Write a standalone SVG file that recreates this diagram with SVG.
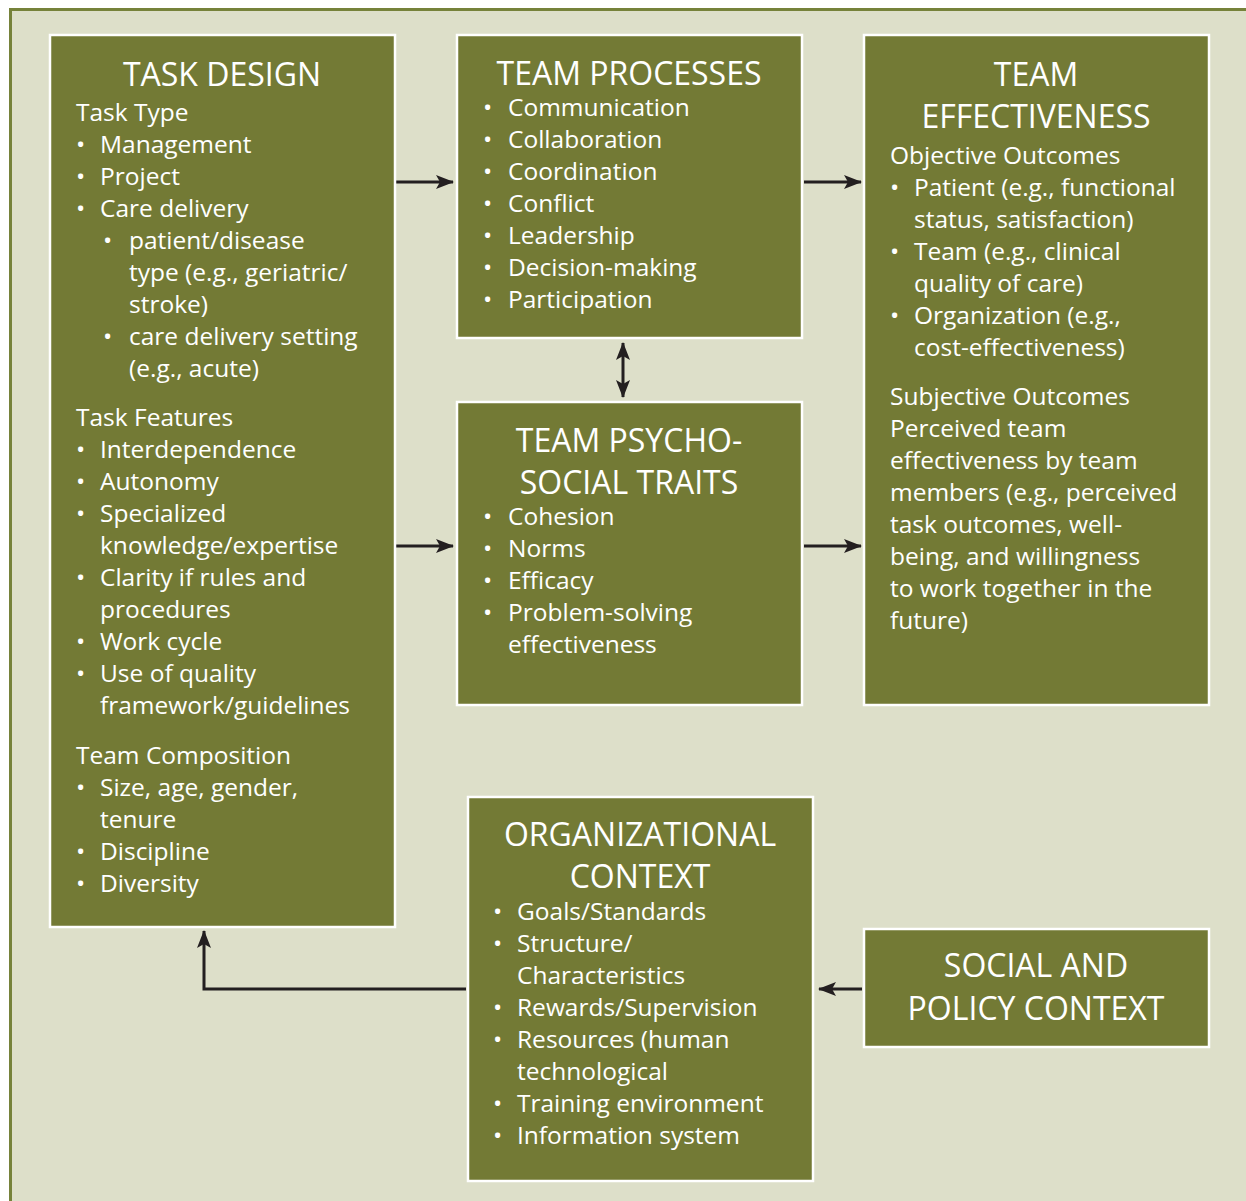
<svg xmlns="http://www.w3.org/2000/svg" width="1246" height="1201" viewBox="0 0 1246 1201">
  <style>
    .box { fill: #737a35; stroke: #ffffff; stroke-width: 2.5; }
    text { font-family: "Open Sans", "Noto Sans", "Liberation Sans", sans-serif; fill: #ffffff; }
    .title { font-size: 32px; text-anchor: middle; }
    .body { font-size: 24.5px; font-weight: 500; }
    .conn { stroke: #231f20; stroke-width: 3; fill: none; }
  </style>
  <defs>
    <marker id="head" viewBox="0 0 18 14" refX="17" refY="7" markerWidth="18" markerHeight="14" markerUnits="userSpaceOnUse" orient="auto-start-reverse">
      <path d="M0,0 L18,7 L0,14 L4,7 Z" fill="#231f20"/>
    </marker>
  </defs>

  <!-- page frame -->
  <rect x="0" y="0" width="1246" height="1201" fill="#ffffff"/>
  <rect x="10.5" y="9.5" width="1250" height="1200" fill="#dddfc9" stroke="#76823a" stroke-width="3"/>

  <!-- connectors -->
  <g id="connectors">
    <line class="conn" x1="396" y1="182" x2="453" y2="182" marker-end="url(#head)"/>
    <line class="conn" x1="804" y1="182" x2="861" y2="182" marker-end="url(#head)"/>
    <line class="conn" x1="396" y1="546" x2="453" y2="546" marker-end="url(#head)"/>
    <line class="conn" x1="804" y1="546" x2="861" y2="546" marker-end="url(#head)"/>
    <line class="conn" x1="623" y1="343" x2="623" y2="397" marker-start="url(#head)" marker-end="url(#head)"/>
    <polyline class="conn" points="466,989 204,989 204,931" marker-end="url(#head)"/>
    <line class="conn" x1="862" y1="989" x2="819" y2="989" marker-end="url(#head)"/>
  </g>

  <!-- Task design -->
  <g id="task-design">
    <rect class="box" x="50" y="35" width="345" height="892"/>
    <text class="title" x="222" y="86">TASK DESIGN</text>
    <g class="body">
      <text x="76" y="121">Task Type</text>
      <text x="76" y="153">•</text><text x="100" y="153">Management</text>
      <text x="76" y="185">•</text><text x="100" y="185">Project</text>
      <text x="76" y="217">•</text><text x="100" y="217">Care delivery</text>
      <text x="103" y="249">•</text><text x="129" y="249">patient/disease</text>
      <text x="129" y="281">type (e.g., geriatric/</text>
      <text x="129" y="313">stroke)</text>
      <text x="103" y="345">•</text><text x="129" y="345">care delivery setting</text>
      <text x="129" y="377">(e.g., acute)</text>
      <text x="76" y="426">Task Features</text>
      <text x="76" y="458">•</text><text x="100" y="458">Interdependence</text>
      <text x="76" y="490">•</text><text x="100" y="490">Autonomy</text>
      <text x="76" y="522">•</text><text x="100" y="522">Specialized</text>
      <text x="100" y="554">knowledge/expertise</text>
      <text x="76" y="586">•</text><text x="100" y="586">Clarity if rules and</text>
      <text x="100" y="618">procedures</text>
      <text x="76" y="650">•</text><text x="100" y="650">Work cycle</text>
      <text x="76" y="682">•</text><text x="100" y="682">Use of quality</text>
      <text x="100" y="714">framework/guidelines</text>
      <text x="76" y="764">Team Composition</text>
      <text x="76" y="796">•</text><text x="100" y="796">Size, age, gender,</text>
      <text x="100" y="828">tenure</text>
      <text x="76" y="860">•</text><text x="100" y="860">Discipline</text>
      <text x="76" y="892">•</text><text x="100" y="892">Diversity</text>
    </g>
  </g>

  <!-- Team processes -->
  <g id="team-processes">
    <rect class="box" x="457" y="35" width="345" height="303"/>
    <text class="title" x="629" y="85">TEAM PROCESSES</text>
    <g class="body">
      <text x="483" y="116">•</text><text x="508" y="116">Communication</text>
      <text x="483" y="148">•</text><text x="508" y="148">Collaboration</text>
      <text x="483" y="180">•</text><text x="508" y="180">Coordination</text>
      <text x="483" y="212">•</text><text x="508" y="212">Conflict</text>
      <text x="483" y="244">•</text><text x="508" y="244">Leadership</text>
      <text x="483" y="276">•</text><text x="508" y="276">Decision-making</text>
      <text x="483" y="308">•</text><text x="508" y="308">Participation</text>
    </g>
  </g>

  <!-- Team psychosocial traits -->
  <g id="team-psychosocial-traits">
    <rect class="box" x="457" y="402" width="345" height="303"/>
    <text class="title" x="629" y="452">TEAM PSYCHO-</text>
    <text class="title" x="629" y="494">SOCIAL TRAITS</text>
    <g class="body">
      <text x="483" y="525">•</text><text x="508" y="525">Cohesion</text>
      <text x="483" y="557">•</text><text x="508" y="557">Norms</text>
      <text x="483" y="589">•</text><text x="508" y="589">Efficacy</text>
      <text x="483" y="621">•</text><text x="508" y="621">Problem-solving</text>
      <text x="508" y="653">effectiveness</text>
    </g>
  </g>

  <!-- Team effectiveness -->
  <g id="team-effectiveness">
    <rect class="box" x="864" y="35" width="345" height="670"/>
    <text class="title" x="1036" y="86">TEAM</text>
    <text class="title" x="1036" y="128">EFFECTIVENESS</text>
    <g class="body">
      <text x="890" y="164">Objective Outcomes</text>
      <text x="890" y="196">•</text><text x="914" y="196">Patient (e.g., functional</text>
      <text x="914" y="228">status, satisfaction)</text>
      <text x="890" y="260">•</text><text x="914" y="260">Team (e.g., clinical</text>
      <text x="914" y="292">quality of care)</text>
      <text x="890" y="324">•</text><text x="914" y="324">Organization (e.g.,</text>
      <text x="914" y="356">cost-effectiveness)</text>
      <text x="890" y="405">Subjective Outcomes</text>
      <text x="890" y="437">Perceived team</text>
      <text x="890" y="469">effectiveness by team</text>
      <text x="890" y="501">members (e.g., perceived</text>
      <text x="890" y="533">task outcomes, well-</text>
      <text x="890" y="565">being, and willingness</text>
      <text x="890" y="597">to work together in the</text>
      <text x="890" y="629">future)</text>
    </g>
  </g>

  <!-- Organizational context -->
  <g id="organizational-context">
    <rect class="box" x="468" y="797" width="345" height="384"/>
    <text class="title" x="640" y="846">ORGANIZATIONAL</text>
    <text class="title" x="640" y="888">CONTEXT</text>
    <g class="body">
      <text x="493" y="920">•</text><text x="517" y="920">Goals/Standards</text>
      <text x="493" y="952">•</text><text x="517" y="952">Structure/</text>
      <text x="517" y="984">Characteristics</text>
      <text x="493" y="1016">•</text><text x="517" y="1016">Rewards/Supervision</text>
      <text x="493" y="1048">•</text><text x="517" y="1048">Resources (human</text>
      <text x="517" y="1080">technological</text>
      <text x="493" y="1112">•</text><text x="517" y="1112">Training environment</text>
      <text x="493" y="1144">•</text><text x="517" y="1144">Information system</text>
    </g>
  </g>

  <!-- Social and policy context -->
  <g id="social-policy-context">
    <rect class="box" x="864" y="929" width="345" height="118"/>
    <text class="title" x="1036" y="977">SOCIAL AND</text>
    <text class="title" x="1036" y="1020">POLICY CONTEXT</text>
  </g>
</svg>
